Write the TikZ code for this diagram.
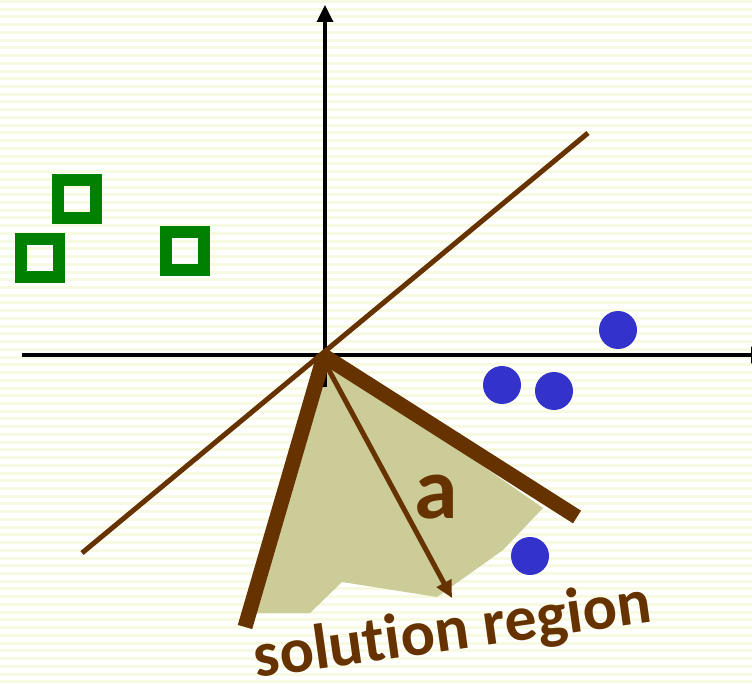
\documentclass[tikz,border=0pt]{standalone}
\usepackage{fontspec}
\setmainfont{Carlito}[Ligatures={NoCommon,NoContextual}]
\usetikzlibrary{arrows.meta,positioning}

\definecolor{stripecol}{RGB}{247,250,225}
\definecolor{brownline}{RGB}{102,51,0}
\definecolor{regionfill}{RGB}{204,204,153}
\definecolor{dotblue}{RGB}{51,51,204}
\definecolor{squaregreen}{RGB}{0,128,0}

\begin{document}
\begin{tikzpicture}[
    x=1pt, y=-1pt,
    axis/.style={line width=3.4pt, -{Triangle[length=17pt,width=16pt]}},
    sample/.style={draw=squaregreen, line width=12pt, minimum size=38pt, inner sep=0pt},
    dot/.style={circle, fill=dotblue, minimum size=38pt, inner sep=0pt},
    bound/.style={brownline, line width=15pt},
    thinline/.style={brownline, line width=5pt},
    lbl/.style={text=brownline, inner sep=0pt, font=\bfseries}
]
\useasboundingbox (0,0) rectangle (752,684);
\clip (0,0) rectangle (752,684);

% background stripes
\fill[white] (0,0) rectangle (752,684);
\foreach \k in {0,...,88}
    \fill[stripecol] (0,\k*7.73) rectangle (752,\k*7.73+3);

% points
\coordinate (O) at (324,356);
\coordinate (xl) at (22,355);
\coordinate (xr) at (768,355);
\coordinate (yb) at (325,387);
\coordinate (yt) at (325,5);
\coordinate (h1) at (82,553);
\coordinate (h2) at (588,133);
\coordinate (bl) at (245,627);
\coordinate (br) at (577,517);
\coordinate (tip) at (452,598);

% solution region
\fill[regionfill] (O) -- (543,508) -- (503,550) -- (437,597) -- (342,582)
    -- (310,613) -- (250,613) -- cycle;

% axes
\draw[axis] (xl) -- (xr);
\draw[axis] (yb) -- (yt);

% separating line and bounds
\draw[thinline] (h1) -- (h2);
\draw[bound] (O) -- (bl);
\draw[bound] (O) -- (br);
\draw[thinline, -{Triangle[length=17pt,width=16pt]}] ([yshift=-5pt]O) -- (tip);

% class 1
\node[sample] (s1) at (77,199) {};
\node[sample] (s2) at (40,258) {};
\node[sample] (s3) at (185,251) {};

% class 2
\node[dot] (c1) at (618,330) {};
\node[dot] (c2) at (502,385) {};
\node[dot] (c3) at (554,391) {};
\node[dot] (c4) at (530,556) {};

% labels
\node[lbl, font=\fontsize{88}{88}\selectfont\bfseries] (avec) at (436,497) {a};
\node[lbl, font=\fontsize{64}{64}\selectfont\bfseries, anchor=base, rotate=8] (region) at (455,650) {solution region};
\end{tikzpicture}
\end{document}
